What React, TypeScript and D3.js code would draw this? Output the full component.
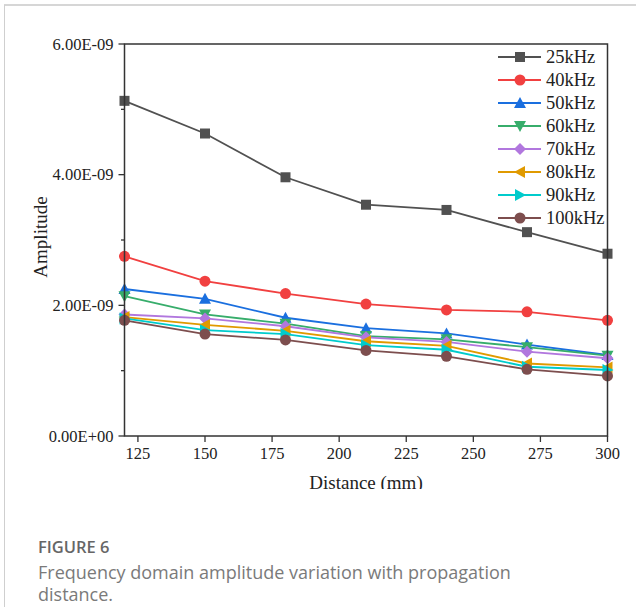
import * as d3 from 'd3';

// distances (mm)
const distances = [120, 150, 180, 210, 240, 270, 300];

// amplitude values, units of 1e-9
const amp25 = [5.13, 4.63, 3.96, 3.54, 3.46, 3.12, 2.79];
const amp40 = [2.75, 2.37, 2.18, 2.02, 1.93, 1.90, 1.77];
const amp50 = [2.25, 2.10, 1.81, 1.65, 1.57, 1.40, 1.24];
const amp60 = [2.14, 1.86, 1.72, 1.53, 1.48, 1.36, 1.23];
const amp70 = [1.86, 1.80, 1.68, 1.51, 1.44, 1.29, 1.19];
const amp80 = [1.82, 1.70, 1.61, 1.45, 1.38, 1.11, 1.05];
const amp90 = [1.80, 1.62, 1.56, 1.39, 1.32, 1.06, 1.01];
const amp100 = [1.77, 1.56, 1.47, 1.31, 1.22, 1.02, 0.92];

const seriesNames = ['25kHz', '40kHz', '50kHz', '60kHz', '70kHz', '80kHz', '90kHz', '100kHz'];
const seriesValues = [amp25, amp40, amp50, amp60, amp70, amp80, amp90, amp100];
const seriesColors = ['#515151', '#F14040', '#1A6FDF', '#37AD6B', '#B177DE', '#E09A00', '#00CBCC', '#7D4E4E'];
const seriesMarkers = ['square', 'circle', 'up', 'down', 'diamond', 'left', 'right', 'circle'];

const xTicks = [125, 150, 175, 200, 225, 250, 275, 300];
const yTicks = [0, 2, 4, 6];
const yTickLabels = ['0.00E+00', '2.00E-09', '4.00E-09', '6.00E-09'];
const yMinorTicks = [1, 3, 5];

const Marker = ({ kind, color, x, y }: { kind: string; color: string; x: number; y: number }) => {
    const s = 5;
    switch (kind) {
        case 'square':
            return <rect x={x - s} y={y - s} width={s * 2} height={s * 2} fill={color} />;
        case 'circle':
            return <circle cx={x} cy={y} r={s + 0.5} fill={color} />;
        case 'up':
            return <path d={`M${x},${y - s - 1}L${x + s + 1},${y + s}L${x - s - 1},${y + s}Z`} fill={color} />;
        case 'down':
            return <path d={`M${x},${y + s + 1}L${x + s + 1},${y - s}L${x - s - 1},${y - s}Z`} fill={color} />;
        case 'diamond':
            return <path d={`M${x},${y - s - 1}L${x + s + 1},${y}L${x},${y + s + 1}L${x - s - 1},${y}Z`} fill={color} />;
        case 'left':
            return <path d={`M${x - s - 1},${y}L${x + s},${y - s - 1}L${x + s},${y + s + 1}Z`} fill={color} />;
        case 'right':
            return <path d={`M${x + s + 1},${y}L${x - s},${y - s - 1}L${x - s},${y + s + 1}Z`} fill={color} />;
        default:
            return null;
    }
};

const App = () => {
    const left = 124.5, right = 607.5, top = 44, bottom = 436;
    const x = d3.scaleLinear().domain([120, 300]).range([left, right]);
    const y = d3.scaleLinear().domain([0, 6]).range([bottom, top]);
    const line = d3.line<number>().x((_, i) => x(distances[i])).y(d => y(d));
    const serif = "'Liberation Serif', 'Times New Roman', serif";
    const sans = "'Open Sans', 'Noto Sans', sans-serif";

    return (
        <svg width="639" height="607" style={{ position: 'absolute', left: 0, top: 0 }}>
            <rect width="639" height="607" fill="#fff" />
            {/* card frame */}
            <line x1="4" y1="5" x2="636" y2="5" stroke="#d6d6d6" strokeWidth="2" />
            <line x1="4.5" y1="5" x2="4.5" y2="607" stroke="#cfcfcf" strokeWidth="1" />

            <defs>
                <clipPath id="figClip">
                    <rect x="6" y="7" width="630" height="482" />
                </clipPath>
            </defs>

            <g clipPath="url(#figClip)" fontFamily={serif} fill="#222">
                {/* series */}
                {seriesValues.map((vals, si) => (
                    <g key={si}>
                        <path d={line(vals) || ''} fill="none" stroke={seriesColors[si]} strokeWidth="1.8" />
                        {vals.map((v, i) => (
                            <Marker key={i} kind={seriesMarkers[si]} color={seriesColors[si]} x={x(distances[i])} y={y(v)} />
                        ))}
                    </g>
                ))}

                {/* frame */}
                <rect x={left} y={top} width={right - left} height={bottom - top} fill="none" stroke="#333" strokeWidth="1.5" />

                {/* y axis */}
                {yTicks.map((t, i) => (
                    <g key={t}>
                        <line x1={left - 6} x2={left} y1={y(t)} y2={y(t)} stroke="#333" strokeWidth="1.3" />
                        <text x={left - 11} y={y(t) + 5.5} textAnchor="end" fontSize="16.5">{yTickLabels[i]}</text>
                    </g>
                ))}
                {yMinorTicks.map(t => (
                    <line key={t} x1={left - 3.5} x2={left} y1={y(t)} y2={y(t)} stroke="#333" strokeWidth="1.3" />
                ))}

                {/* x axis */}
                {xTicks.map(t => (
                    <g key={t}>
                        <line x1={x(t)} x2={x(t)} y1={bottom} y2={bottom + 6} stroke="#333" strokeWidth="1.3" />
                        <text x={x(t)} y={bottom + 23} textAnchor="middle" fontSize="16.5">{t}</text>
                    </g>
                ))}

                <text x={(left + right) / 2} y={489} textAnchor="middle" fontSize="19">Distance (mm)</text>
                <text transform={`translate(47, ${(top + bottom) / 2 - 3}) rotate(-90)`} textAnchor="middle" fontSize="19">Amplitude</text>

                {/* legend */}
                {seriesNames.map((name, i) => {
                    const ly = 57 + i * 23;
                    return (
                        <g key={name}>
                            <line x1={498} x2={541} y1={ly} y2={ly} stroke={seriesColors[i]} strokeWidth="1.8" />
                            <Marker kind={seriesMarkers[i]} color={seriesColors[i]} x={520} y={ly} />
                            <text x={546} y={ly + 6} fontSize="18.5">{name}</text>
                        </g>
                    );
                })}
            </g>

            {/* caption */}
            <text x="38" y="553" fontFamily={sans} fontSize="16.5" fontWeight="600" fill="#666">FIGURE 6</text>
            <text x="38" y="579" fontFamily={sans} fontSize="18" fill="#7a7a7a">Frequency domain amplitude variation with propagation</text>
            <text x="38" y="601" fontFamily={sans} fontSize="18" fill="#7a7a7a">distance.</text>
        </svg>
    );
};

export default App;
